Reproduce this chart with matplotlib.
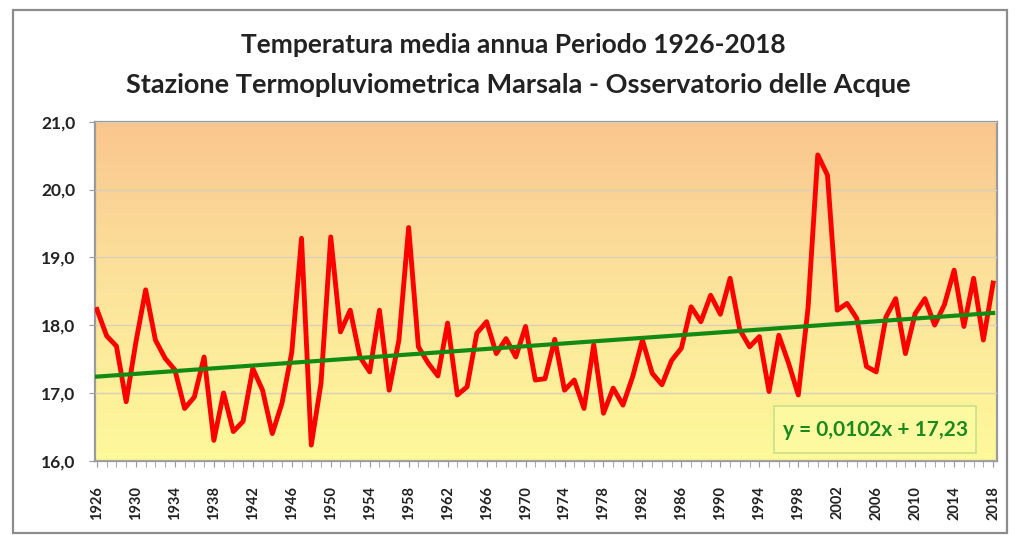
import numpy as np
import matplotlib.pyplot as plt
from matplotlib.colors import LinearSegmentedColormap
from matplotlib.patches import Rectangle

# Temperatura media annua, Marsala 1926-2018
years = list(range(1926, 2019))
temps = [
    18.23, 17.84, 17.69, 16.87, 17.75, 18.52, 17.78, 17.51, 17.34, 16.77,
    16.94, 17.53, 16.30, 17.00, 16.43, 16.58, 17.36, 17.04, 16.40, 16.85,
    17.60, 19.28, 16.23, 17.14, 19.30, 17.90, 18.22, 17.53, 17.31, 18.22,
    17.04, 17.78, 19.44, 17.68, 17.44, 17.25, 18.03, 16.97, 17.09, 17.88,
    18.05, 17.58, 17.80, 17.53, 17.98, 17.19, 17.21, 17.79, 17.04, 17.19,
    16.77, 17.71, 16.70, 17.07, 16.82, 17.24, 17.78, 17.29, 17.12, 17.48,
    17.66, 18.27, 18.05, 18.44, 18.16, 18.69, 17.93, 17.68, 17.83, 17.02,
    17.85, 17.44, 16.97, 18.25, 20.51, 20.21, 18.22, 18.32, 18.10, 17.39,
    17.31, 18.12, 18.39, 17.58, 18.17, 18.39, 18.00, 18.30, 18.81, 17.98,
    18.69, 17.78, 18.62,
]
trend_slope = 0.0102
trend_intercept = 17.23
year_labels = [str(y) for y in range(1926, 2019, 4)]

plt.rcParams['font.family'] = ['Lato', 'DejaVu Sans']

fig = plt.figure(figsize=(10.2, 5.35), dpi=100)
fig.patch.set_facecolor('white')

# outer chart frame
fig.patches.append(Rectangle((13 / 1020, 2 / 535), 994 / 1020, 523 / 535,
                             transform=fig.transFigure, fill=False,
                             edgecolor='#8c8c8c', linewidth=1.6))

ax = fig.add_axes([95 / 1020, 1 - 460.7 / 535, 902 / 1020, 339 / 535])

# orange-to-yellow background fill
cmap = LinearSegmentedColormap.from_list('bg', ['#fef99a', '#fce49c', '#fac68f'])
grad = np.linspace(0, 1, 256).reshape(-1, 1)
ax.imshow(grad, cmap=cmap, origin='lower', aspect='auto',
          extent=[1925.8, 2018.4, 16.0, 21.0], zorder=0)

x = np.array(years)
trend = trend_intercept + trend_slope * (np.arange(len(years)) + 1)

ax.plot(x, temps, color='#ff0000', linewidth=3.5, zorder=3)
ax.plot(x, trend, color='#138a13', linewidth=3.0, zorder=4)

ax.set_xlim(1925.8, 2018.4)
ax.set_ylim(16.0, 21.0)

ax.set_yticks(np.arange(16, 21.5, 1))
ax.set_yticklabels([f'{v:.1f}'.replace('.', ',') for v in np.arange(16, 21.5, 1)],
                   fontsize=12.5, fontweight='bold', color='#222222')
ax.yaxis.grid(True, color='#d9cfb8', linewidth=1.0, zorder=1)
ax.set_axisbelow(False)

ax.set_xticks(range(1926, 2019, 4))
ax.set_xticklabels(year_labels, rotation=90, fontsize=10.5, fontweight='bold',
                   color='#222222')
ax.set_xticks(years, minor=True)
ax.tick_params(axis='x', which='both', direction='out', length=4, color='#999999', pad=14)
ax.tick_params(axis='y', direction='out', length=4, color='#999999', pad=10)

for s in ax.spines.values():
    s.set_color('#9a9a9a')
    s.set_linewidth(1.6)

# equation of the linear trend
ax.add_patch(Rectangle((0.753, 0.023), 0.224, 0.138, transform=ax.transAxes,
                       facecolor='#fdf9a0', edgecolor='#c9e08a', linewidth=1.2, zorder=5))
ax.text(0.865, 0.092, 'y = 0,0102x + 17,23', transform=ax.transAxes,
        ha='center', va='center', fontsize=15, fontweight='bold',
        color='#1b8a1b', zorder=6)

fig.text(0.503, 1 - 45 / 535, 'Temperatura media annua Periodo 1926-2018',
         ha='center', va='center', fontsize=19, fontweight='bold', color='#222222')
fig.text(0.508, 1 - 85 / 535, 'Stazione Termopluviometrica Marsala - Osservatorio delle Acque',
         ha='center', va='center', fontsize=19.5, fontweight='bold', color='#222222')

fig.savefig('out.png', dpi=100)
